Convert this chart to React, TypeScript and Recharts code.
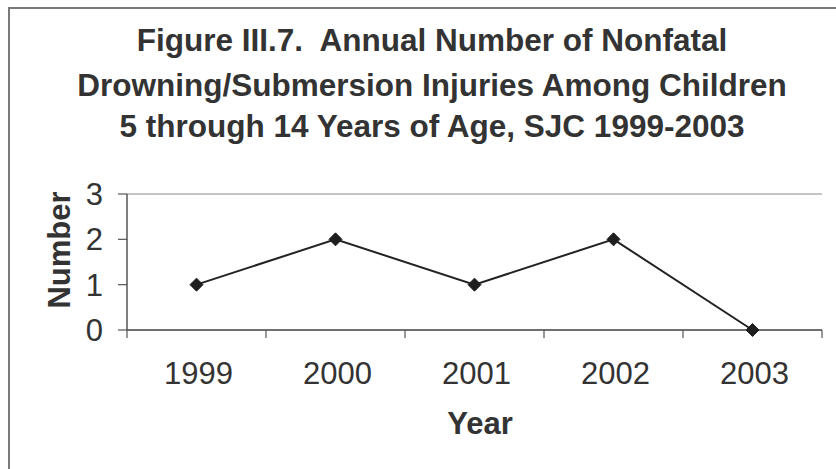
import React from 'react';
import { LineChart, Line, XAxis, YAxis, CartesianGrid } from 'recharts';

const years = ['1999', '2000', '2001', '2002', '2003'];
const counts = [1, 2, 1, 2, 0];
const yTicks = [0, 1, 2, 3];
const titleLines = [
  'Figure III.7.  Annual Number of Nonfatal',
  'Drowning/Submersion Injuries Among Children',
  '5 through 14 Years of Age, SJC 1999-2003',
];
const xTitle = 'Year';
const yTitle = 'Number';

const data = years.map((year, i) => ({ pos: i + 0.5, year, count: counts[i] }));
const xTickValues: number[] = [];
for (let i = 0; i <= years.length; i++) {
  xTickValues.push(i);
  if (i < years.length) xTickValues.push(i + 0.5);
}

const FONT = '"Liberation Sans", Arial, Helvetica, sans-serif';
const TEXT = '#333333';

const XTick = (props: any) => {
  const { x, y, payload } = props;
  const v = payload.value as number;
  if (Number.isInteger(v)) {
    return <line x1={x} y1={y} x2={x} y2={y + 8} stroke="#555" strokeWidth={1.2} />;
  }
  const label = years[Math.floor(v)];
  return (
    <text x={x + 2} y={y + 54} textAnchor="middle" fontFamily={FONT} fontSize={31} fill={TEXT}>
      {label}
    </text>
  );
};

const Diamond = (props: any) => {
  const { cx, cy } = props;
  if (cx == null || cy == null) return null;
  const r = 6.5;
  return (
    <polygon
      points={`${cx},${cy - r} ${cx + r},${cy} ${cx},${cy + r} ${cx - r},${cy}`}
      fill="#1e1e1e"
      stroke="#1e1e1e"
    />
  );
};

export default function App() {
  return (
    <div style={{ position: 'absolute', left: 0, top: 0, width: 836, height: 469, background: '#fff', overflow: 'hidden' }}>
      <LineChart width={836} height={469} data={data} margin={{ top: 194, right: 14, left: 0, bottom: 0 }}>
        <CartesianGrid horizontal vertical={false} stroke="#8a8a8a" strokeWidth={1.2} />
        <XAxis
          dataKey="pos"
          type="number"
          domain={[0, years.length]}
          ticks={xTickValues}
          interval={0}
          height={139}
          tickSize={0}
          tickMargin={0}
          tickLine={false}
          tick={<XTick />}
          axisLine={{ stroke: '#555', strokeWidth: 1.5 }}
        />
        <YAxis
          yAxisId="left"
          domain={[0, 3]}
          ticks={yTicks}
          interval={0}
          width={127}
          tickSize={9}
          tickMargin={15}
          tick={{ fontFamily: FONT, fontSize: 31, fill: TEXT }}
          tickLine={{ stroke: '#555', strokeWidth: 1.2 }}
          axisLine={{ stroke: '#555', strokeWidth: 1.5 }}
        />
        <YAxis
          yAxisId="right"
          orientation="right"
          domain={[0, 3]}
          width={0}
          tick={false}
          tickLine={false}
          axisLine={{ stroke: '#8a8a8a', strokeWidth: 1.5 }}
        />
        <Line
          yAxisId="left"
          type="linear"
          dataKey="count"
          stroke="#222"
          strokeWidth={2}
          dot={<Diamond />}
          activeDot={false}
          isAnimationActive={false}
        />
      </LineChart>
      <svg width={836} height={469} style={{ position: 'absolute', left: 0, top: 0, pointerEvents: 'none' }}>
        <path d="M9,470 V8 H840" fill="none" stroke="#7a7a7a" strokeWidth={2} />
        {titleLines.map((t, i) => (
          <text
            key={i}
            x={432}
            y={[51, 96, 137][i]}
            textAnchor="middle"
            fontFamily={FONT}
            fontWeight="bold"
            fontSize={31.5}
            fill={TEXT}
            style={{ whiteSpace: 'pre' }}
          >
            {t}
          </text>
        ))}
        <text x={480} y={434} textAnchor="middle" fontFamily={FONT} fontWeight="bold" fontSize={31} fill={TEXT}>
          {xTitle}
        </text>
        <text
          transform="translate(70,250) rotate(-90)"
          textAnchor="middle"
          fontFamily={FONT}
          fontWeight="bold"
          fontSize={31}
          fill={TEXT}
        >
          {yTitle}
        </text>
      </svg>
    </div>
  );
}
